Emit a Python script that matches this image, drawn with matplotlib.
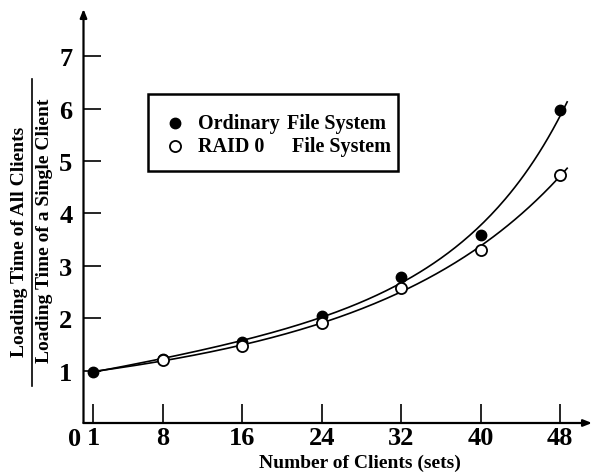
import numpy as np
import matplotlib
matplotlib.use("Agg")
import matplotlib.pyplot as plt
from matplotlib.lines import Line2D
from matplotlib.patches import Rectangle

plt.rcParams['font.family'] = ['Liberation Serif', 'DejaVu Serif']
plt.rcParams['font.weight'] = 'bold'

clients = [1, 8, 16, 24, 32, 40, 48]
ordinary = [0.98, 1.22, 1.55, 2.05, 2.78, 3.58, 5.97]
raid0 = [0.98, 1.2, 1.47, 1.9, 2.57, 3.31, 4.74]
x_ticks = [1, 8, 16, 24, 32, 40, 48]
y_ticks = [1, 2, 3, 4, 5, 6, 7]

W, H = 603, 477
fig = plt.figure(figsize=(W / 100, H / 100), dpi=100)
ax = fig.add_axes([83.5 / W, 1 - 424 / H, (592 - 83.5) / W, (424 - 10) / H])
ax.set_xlim(0, 51.2)
ax.set_ylim(0, 7.9)

def px(x, y):
    # figure pixel (from top-left) -> figure fraction
    return x / W, 1 - y / H

# fitted trend curves through the measured points
xs = np.linspace(1, 48.7, 200)
for ys in (ordinary, raid0):
    coef = np.polyfit(clients, np.log(ys), 3)
    ax.plot(xs, np.exp(np.polyval(coef, xs)), color='black', lw=1.2, zorder=2)

ax.plot(clients, ordinary, 'o', color='black', ms=7.5, zorder=3)
ax.plot(clients[1:], raid0[1:], 'o', mfc='white', mec='black', mew=1.3, ms=8, zorder=4)

for s in ax.spines.values():
    s.set_visible(False)
arrow = dict(arrowstyle='-|>,head_length=0.5,head_width=0.2', lw=1.6, color='black',
             shrinkA=0, shrinkB=0)
ax.annotate('', xy=(1.0, 0), xytext=(0, 0), xycoords='axes fraction',
            textcoords='axes fraction', arrowprops=arrow, annotation_clip=False)
ax.annotate('', xy=(0, 1.0), xytext=(0, 0), xycoords='axes fraction',
            textcoords='axes fraction', arrowprops=arrow, annotation_clip=False)

ax.set_xticks(x_ticks)
ax.set_yticks(y_ticks)
ax.tick_params(axis='x', direction='in', length=14, width=1.2, pad=2, labelsize=19)
ax.tick_params(axis='y', direction='in', length=12, width=1.2, pad=8, labelsize=19)
ax.text(-0.9, -0.08, '0', fontsize=19, ha='center', va='top', fontweight='bold')
ax.set_xlabel('Number of Clients (sets)', fontsize=14, fontweight='bold')
ax.xaxis.set_label_coords((360 - 83.5) / 508.5, -(463 - 424) / 414, transform=ax.transAxes)
ax.xaxis.label.set_va('center')

# legend box
fig.add_artist(Rectangle(px(148, 172), 250 / W, 77 / H, transform=fig.transFigure,
                         fill=False, edgecolor='black', lw=1.8))
fig.add_artist(Line2D([px(175, 124)[0]], [px(175, 124)[1]], marker='o', ls='',
                      color='black', ms=7.5, transform=fig.transFigure))
fig.add_artist(Line2D([px(175, 147)[0]], [px(175, 147)[1]], marker='o', ls='',
                      mfc='white', mec='black', mew=1.3, ms=8, transform=fig.transFigure))
leg_font = dict(fontsize=14.5, fontweight='bold', va='center')
fig.text(*px(198, 124), 'Ordinary', **leg_font)
fig.text(*px(287, 124), 'File System', **leg_font)
fig.text(*px(198, 147), 'RAID 0', **leg_font)
fig.text(*px(292, 147), 'File System', **leg_font)

fig.text(*px(20, 242), 'Loading Time of All Clients', rotation=90,
         ha='center', va='center', fontsize=14, fontweight='bold')
fig.text(*px(45, 231), 'Loading Time of a Single Client', rotation=90,
         ha='center', va='center', fontsize=14, fontweight='bold')
fig.add_artist(Line2D([32 / W, 32 / W], [1 - 80 / H, 1 - 387 / H], color='black', lw=1.2,
                      transform=fig.transFigure))

fig.savefig('out.png', dpi=100)
